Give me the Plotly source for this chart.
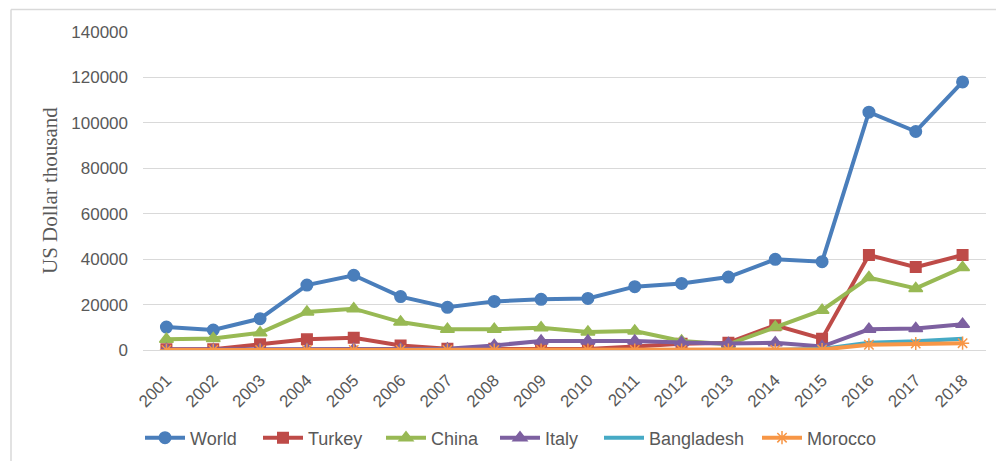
import plotly.graph_objects as go

years = [str(y) for y in range(2001, 2019)]
world = [10100, 8800, 13800, 28600, 32900, 23500, 18800, 21400, 22300, 22700, 27900, 29300, 32100, 39900, 38900, 104700, 96200, 118000]
turkey = [300, 300, 2500, 4700, 5400, 2000, 500, 500, 600, 400, 1500, 2800, 3200, 10900, 5000, 41800, 36500, 41800]
china = [4700, 5100, 7600, 16700, 18200, 12300, 9100, 9100, 9800, 7900, 8400, 4000, 2500, 10100, 17500, 31900, 27100, 36300]
italy = [200, 200, 200, 200, 300, 400, 500, 2000, 4000, 4000, 4000, 3300, 2900, 3200, 1500, 9100, 9500, 11300]
bangladesh = [0, 0, 0, 0, 0, 0, 0, 0, 0, 0, 0, 0, 0, 0, 500, 3200, 3800, 5000]
morocco = [0, 0, 0, 0, 0, 0, 0, 0, 0, 0, 0, 0, 0, 0, 200, 2300, 2800, 3000]

# plot area in pixels (page coords)
PL, PR, PT, PB = 143, 986, 32, 350
PW, PH = PR - PL, PB - PT

series = [
    ("World", world, "#4A7EBB", "circle", 11.5, 145),
    ("Turkey", turkey, "#BE4B48", "square", 10.5, 263),
    ("China", china, "#98B954", "triangle-up", 12, 386),
    ("Italy", italy, "#7D60A0", "triangle-up", 12, 500),
    ("Bangladesh", bangladesh, "#46AAC5", None, 0, 604),
    ("Morocco", morocco, "#F79646", "asterisk-open", 11, 762),
]

tick_font = dict(family="Liberation Sans, Arial, sans-serif", size=17, color="#595959")
leg_font = dict(family="Liberation Sans, Arial, sans-serif", size=18, color="#595959")

fig = go.Figure()
legends = {}
for i, (name, vals, col, sym, sz, lx) in enumerate(series):
    lid = "legend" if i == 0 else f"legend{i+1}"
    if sym is None:
        fig.add_trace(go.Scatter(x=years, y=vals, name=name, mode="lines", legend=lid,
                                 line=dict(color=col, width=4)))
    else:
        fig.add_trace(go.Scatter(x=years, y=vals, name=name, mode="lines+markers", legend=lid,
                                 line=dict(color=col, width=4),
                                 marker=dict(symbol=sym, size=sz, color=col,
                                             line=dict(color=col, width=1.5))))
    legends[lid] = dict(orientation="h", x=(lx - 5 - PL) / PW, xanchor="left",
                        y=(PB - 438) / PH, yanchor="middle", font=leg_font,
                        itemwidth=40, bgcolor="rgba(0,0,0,0)", borderwidth=0)

fig.update_layout(
    width=996, height=461,
    margin=dict(l=PL, r=996 - PR, t=PT, b=461 - PB, autoexpand=False),
    paper_bgcolor="white", plot_bgcolor="white",
    showlegend=True,
    xaxis=dict(type="category", range=[-0.5, 17.5], tickangle=-45, tickfont=tick_font,
               showgrid=False, showline=False, ticks="", zeroline=False, automargin=False,
               ticklabelstandoff=16),
    yaxis=dict(range=[0, 140000], dtick=20000, tickformat="d", tickfont=tick_font, showgrid=True,
               gridcolor="#D9D9D9", gridwidth=1, zeroline=True, zerolinecolor="#D9D9D9",
               zerolinewidth=1, showline=False, ticks="", ticklabelstandoff=14, automargin=False),
    annotations=[dict(text="US Dollar thousand", xref="paper", yref="paper",
                      x=(50 - PL) / PW, y=(PB - 191) / PH, xanchor="center", yanchor="middle",
                      textangle=-90, showarrow=False,
                      font=dict(family="Liberation Serif, Times New Roman, serif", size=21, color="#595959"))],
    shapes=[
        dict(type="line", xref="paper", yref="paper", x0=(11 - PL) / PW, x1=1.05,
             y0=1 + (PT - 9.5) / PH, y1=1 + (PT - 9.5) / PH, line=dict(color="#D9D9D9", width=1.5)),
        dict(type="line", xref="paper", yref="paper", x0=(11 - PL) / PW, x1=(11 - PL) / PW,
             y0=1 + (PT - 9.5) / PH, y1=-0.5, line=dict(color="#D9D9D9", width=1.5)),
    ],
    **legends,
)

fig.write_html("out.html", config={"displayModeBar": False},
               post_script="document.body.style.margin='0';document.body.style.overflow='hidden';")
